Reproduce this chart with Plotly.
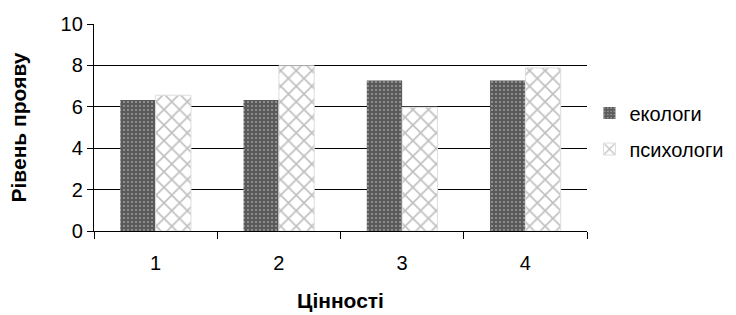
import plotly.graph_objects as go

categories = ["1", "2", "3", "4"]
ecologists = [6.33, 6.33, 7.27, 7.27]
psychologists = [6.56, 7.98, 5.98, 7.88]
y_ticks = [0, 2, 4, 6, 8, 10]

fig = go.Figure()
fig.add_trace(go.Bar(
    x=categories, y=ecologists, name="екологи", legend="legend",
    marker=dict(color="#5a5a5a", line=dict(width=0),
                pattern=dict(shape=".", fgcolor="#e6e6e6", bgcolor="#5a5a5a",
                             size=4, solidity=0.2, fillmode="overlay")),
))
fig.add_trace(go.Bar(
    x=categories, y=psychologists, name="психологи", legend="legend2",
    marker=dict(color="#ffffff", line=dict(width=1, color="#dddddd"),
                pattern=dict(shape="x", fgcolor="#808080", bgcolor="#ffffff",
                             size=11, solidity=0.28, fillmode="overlay")),
))

legend_common = dict(xanchor="left", yanchor="middle", font=dict(size=20),
                     bgcolor="rgba(0,0,0,0)", itemwidth=30)
fig.update_layout(
    width=736, height=315,
    margin=dict(l=94, r=149, t=24, b=84, autoexpand=False),
    paper_bgcolor="white", plot_bgcolor="white",
    font=dict(family="Liberation Sans, Arial", size=20, color="black"),
    barmode="group", bargap=0.427, bargroupgap=0,
    showlegend=True,
    legend=dict(x=1.005, y=0.57, **legend_common),
    legend2=dict(x=1.005, y=0.396, **legend_common),
)
fig.update_xaxes(
    automargin=False,
    showline=True, linecolor="black", linewidth=1.3,
    ticks="outside", ticklen=7, tickcolor="black", tickwidth=1.3,
    tickson="boundaries", showgrid=False, ticklabelstandoff=14,
    tickfont=dict(size=20),
    title=dict(text="<b>Цінності</b>", font=dict(size=21), standoff=20),
)
fig.update_yaxes(
    automargin=False,
    range=[0, 10], tickvals=y_ticks,
    showline=True, linecolor="black", linewidth=1.3,
    ticks="outside", ticklen=6, tickcolor="black", tickwidth=1.3,
    showgrid=True, gridcolor="black", gridwidth=1.2, zeroline=False,
    tickfont=dict(size=20),
    title=dict(text="<b>Рівень прояву</b>", font=dict(size=21), standoff=28),
)
fig.write_html("out.html", config={"displayModeBar": False},
               post_script="document.body.style.margin='0';")
